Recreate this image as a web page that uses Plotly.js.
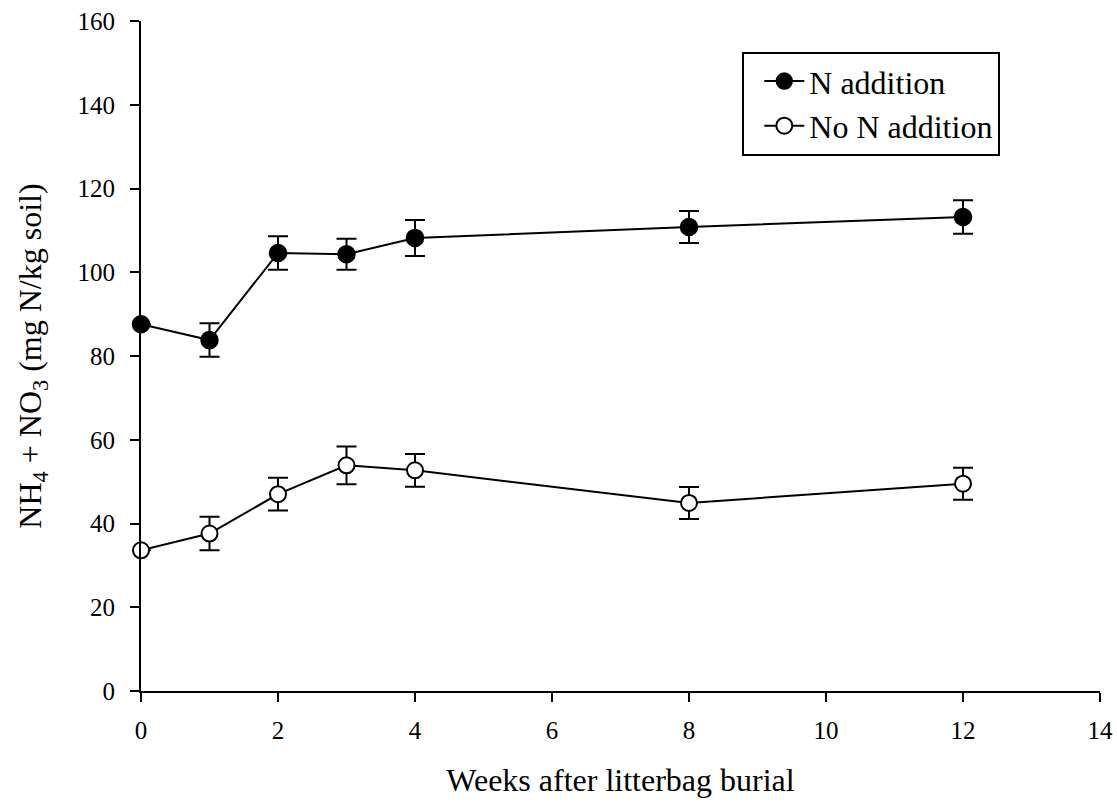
<!DOCTYPE html>
<html>
<head>
<meta charset="utf-8">
<script src="https://cdn.plot.ly/plotly-3.0.1.min.js"></script>
<style>html,body{margin:0;padding:0;background:#fff;}#chart{width:1117px;height:808px;}</style>
</head>
<body>
<div id="chart"></div>
<script>
const weeks = [0, 1, 2, 3, 4, 8, 12];
const nAddition = [87.6, 83.8, 104.6, 104.3, 108.2, 110.8, 113.2];
const nAdditionErr = [0, 4.0, 4.0, 3.7, 4.3, 3.8, 4.0];
const noNAddition = [33.6, 37.6, 47.0, 53.9, 52.7, 44.9, 49.5];
const noNAdditionErr = [0, 4.0, 3.9, 4.5, 3.9, 3.8, 3.8];
const seriesNames = ["N addition", "No N addition"];
const xTicks = [0, 2, 4, 6, 8, 10, 12, 14];
const yTicks = [0, 20, 40, 60, 80, 100, 120, 140, 160];

const errStyle = {type: 'data', visible: true, color: '#000', thickness: 2, width: 10};

const traces = [
  {
    x: weeks, y: nAddition, name: seriesNames[0], type: 'scatter', mode: 'lines+markers',
    line: {color: '#000', width: 2},
    marker: {symbol: 'circle', size: 17, color: '#000', line: {color: '#000', width: 1.5}},
    error_y: Object.assign({array: nAdditionErr}, errStyle),
    cliponaxis: false
  },
  {
    x: weeks, y: noNAddition, name: seriesNames[1], type: 'scatter', mode: 'lines+markers',
    line: {color: '#000', width: 2},
    marker: {symbol: 'circle', size: 16, color: '#fff', line: {color: '#000', width: 2}},
    error_y: Object.assign({array: noNAdditionErr}, errStyle),
    cliponaxis: false
  }
];

const fontFam = '"Liberation Serif", "Times New Roman", serif';

const layout = {
  width: 1117, height: 808,
  margin: {l: 141, r: 17, t: 21, b: 117},
  paper_bgcolor: '#fff', plot_bgcolor: '#fff',
  font: {family: fontFam, color: '#000', size: 25},
  showlegend: true,
  legend: {
    x: 0.627, y: 0.954, xanchor: 'left', yanchor: 'top',
    bordercolor: '#000', borderwidth: 2, bgcolor: '#fff',
    font: {family: fontFam, size: 32, color: '#000'},
    tracegroupgap: 0, itemwidth: 40, indentation: 15
  },
  xaxis: {
    range: [0, 14], tickvals: xTicks, ticktext: xTicks.map(String),
    showgrid: false, zeroline: false, showline: true, linecolor: '#000', linewidth: 2,
    ticks: 'outside', ticklen: 9, tickwidth: 2, tickcolor: '#000',
    ticklabelstandoff: 7,
    tickfont: {family: fontFam, size: 25, color: '#000'},
    title: {text: 'Weeks after litterbag burial', font: {family: fontFam, size: 32, color: '#000'}, standoff: 26}
  },
  yaxis: {
    range: [0, 160], tickvals: yTicks, ticktext: yTicks.map(String),
    showgrid: false, zeroline: false, showline: true, linecolor: '#000', linewidth: 2,
    ticks: 'outside', ticklen: 9, tickwidth: 2, tickcolor: '#000',
    ticklabelstandoff: 10,
    tickfont: {family: fontFam, size: 25, color: '#000'},
    title: {text: 'NH<sub>4</sub> + NO<sub>3</sub> (mg N/kg soil)', font: {family: fontFam, size: 32, color: '#000'}, standoff: 26}
  }
};

Plotly.newPlot('chart', traces, layout, {displayModeBar: false, responsive: false});
</script>
</body>
</html>
